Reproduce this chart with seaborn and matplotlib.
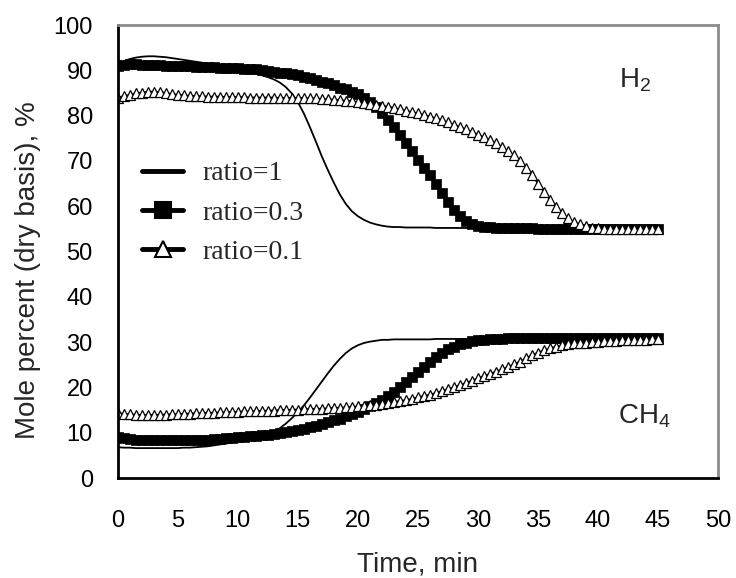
import numpy as np
import pandas as pd
import matplotlib
matplotlib.use('Agg')
import matplotlib.pyplot as plt
import seaborn as sns

# sample times, one reading every half minute
time_min = np.arange(0, 45.5, 0.5)

# H2 mole percent (dry basis)
h2_ratio_1 = [
    91.5, 92.0, 92.5, 92.8, 93.0, 93.1, 93.1, 93.0, 92.9, 92.7,
    92.5, 92.3, 92.1, 91.9, 91.7, 91.4, 91.2, 91.0, 90.8, 90.5,
    90.3, 90.0, 89.7, 89.3, 88.9, 88.5, 88.0, 87.3, 86.3, 84.9,
    83.0, 80.5, 77.5, 74.3, 71.0, 68.0, 65.2, 62.6, 60.5, 58.9,
    57.8, 57.0, 56.4, 56.0, 55.7, 55.5, 55.4, 55.4, 55.3, 55.3,
    55.3, 55.3, 55.3, 55.2, 55.2, 55.2, 55.2, 55.2, 55.2, 55.2,
    55.2, 55.2, 55.2, 55.2, 55.1, 55.1, 55.1, 55.1, 55.1, 55.1,
    55.1, 55.1, 55.1, 55.1, 55.1, 55.1, 55.0, 55.0, 55.0, 55.0,
    55.0, 55.0, 55.0, 55.0, 55.0, 55.0, 55.0, 55.0, 55.0, 55.0,
    55.0]
h2_ratio_03 = [
    91.0, 91.2, 91.3, 91.3, 91.2, 91.2, 91.1, 91.1, 91.0, 91.0,
    91.0, 90.9, 90.9, 90.8, 90.8, 90.7, 90.7, 90.6, 90.6, 90.5,
    90.5, 90.4, 90.3, 90.2, 90.0, 89.9, 89.7, 89.5, 89.3, 89.1,
    88.9, 88.6, 88.3, 87.9, 87.5, 87.1, 86.7, 86.2, 85.8, 85.3,
    84.8, 84.0, 83.0, 81.8, 80.5, 79.0, 77.4, 75.8, 74.0, 72.2,
    70.3, 68.5, 66.8, 65.0, 63.0, 61.0, 59.2, 57.8, 56.8, 56.1,
    55.7, 55.5, 55.4, 55.3, 55.2, 55.2, 55.1, 55.1, 55.1, 55.1,
    55.0, 55.0, 55.0, 55.0, 55.0, 55.0, 55.0, 55.0, 55.0, 55.0,
    55.0, 55.0, 55.0, 55.0, 55.0, 55.0, 55.0, 55.0, 55.0, 55.0,
    55.0]
h2_ratio_01 = [
    84.0, 84.3, 84.6, 84.9, 85.1, 85.3, 85.3, 85.2, 85.0, 84.8,
    84.6, 84.5, 84.4, 84.3, 84.3, 84.2, 84.2, 84.2, 84.1, 84.1,
    84.1, 84.1, 84.0, 84.0, 84.0, 84.0, 84.0, 83.9, 83.9, 83.9,
    83.9, 83.9, 83.8, 83.8, 83.7, 83.6, 83.5, 83.4, 83.3, 83.2,
    83.0, 82.8, 82.6, 82.4, 82.2, 82.0, 81.7, 81.4, 81.1, 80.8,
    80.5, 80.2, 79.8, 79.4, 79.0, 78.5, 78.0, 77.5, 77.0, 76.4,
    75.8, 75.2, 74.6, 73.9, 73.1, 72.2, 71.2, 70.0, 68.5, 66.9,
    65.0, 63.2, 61.4, 59.8, 58.4, 57.3, 56.5, 56.0, 55.6, 55.3,
    55.1, 55.0, 55.0, 54.9, 54.9, 54.9, 54.9, 54.9, 54.9, 54.9,
    54.9]

# CH4 mole percent (dry basis)
ch4_ratio_1 = [
    6.8, 6.7, 6.7, 6.6, 6.6, 6.6, 6.6, 6.6, 6.6, 6.6,
    6.6, 6.7, 6.7, 6.8, 6.9, 7.0, 7.2, 7.4, 7.6, 7.8,
    8.1, 8.3, 8.6, 8.9, 9.2, 9.6, 10.2, 11.0, 12.0, 13.2,
    14.5, 16.0, 17.7, 19.5, 21.3, 23.1, 24.8, 26.3, 27.6, 28.6,
    29.3, 29.8, 30.1, 30.3, 30.5, 30.5, 30.6, 30.6, 30.6, 30.6,
    30.6, 30.6, 30.6, 30.7, 30.7, 30.7, 30.7, 30.7, 30.7, 30.7,
    30.7, 30.7, 30.8, 30.8, 30.8, 30.8, 30.8, 30.8, 30.8, 30.8,
    30.8, 30.8, 30.8, 30.8, 30.8, 30.8, 30.8, 30.8, 30.8, 30.8,
    30.8, 30.8, 30.8, 30.8, 30.8, 30.8, 30.8, 30.8, 30.8, 30.8,
    30.8]
ch4_ratio_03 = [
    9.0, 8.8, 8.6, 8.5, 8.4, 8.4, 8.3, 8.3, 8.3, 8.3,
    8.3, 8.3, 8.3, 8.4, 8.4, 8.5, 8.6, 8.7, 8.8, 8.9,
    9.0, 9.1, 9.2, 9.3, 9.4, 9.5, 9.7, 9.9, 10.1, 10.3,
    10.6, 10.9, 11.2, 11.5, 11.9, 12.3, 12.7, 13.1, 13.6, 14.1,
    14.6, 15.2, 15.8, 16.5, 17.3, 18.1, 19.0, 20.0, 21.1, 22.3,
    23.5, 24.6, 25.7, 26.7, 27.6, 28.4, 29.0, 29.5, 29.9, 30.2,
    30.4, 30.5, 30.6, 30.7, 30.7, 30.8, 30.8, 30.8, 30.9, 30.9,
    30.9, 30.9, 31.0, 31.0, 31.0, 31.0, 31.0, 31.0, 31.0, 31.0,
    31.0, 31.0, 31.0, 31.0, 31.0, 31.0, 31.0, 31.0, 31.0, 31.0,
    31.0]
ch4_ratio_01 = [
    14.3, 14.2, 14.1, 14.0, 13.9, 13.9, 13.9, 14.0, 14.0, 14.1,
    14.1, 14.2, 14.2, 14.3, 14.3, 14.4, 14.4, 14.5, 14.5, 14.6,
    14.6, 14.7, 14.7, 14.8, 14.8, 14.9, 14.9, 15.0, 15.0, 15.1,
    15.1, 15.2, 15.2, 15.3, 15.3, 15.4, 15.5, 15.5, 15.6, 15.7,
    15.8, 15.9, 16.1, 16.2, 16.4, 16.6, 16.8, 17.0, 17.2, 17.5,
    17.8, 18.1, 18.4, 18.8, 19.2, 19.6, 20.0, 20.5, 21.0, 21.5,
    22.0, 22.5, 23.0, 23.5, 24.0, 24.5, 25.1, 25.7, 26.4, 27.1,
    27.7, 28.2, 28.6, 29.0, 29.3, 29.5, 29.7, 29.8, 29.9, 30.0,
    30.1, 30.2, 30.3, 30.3, 30.4, 30.4, 30.5, 30.5, 30.5, 30.6,
    30.6]

ratio_labels = ['ratio=1', 'ratio=0.3', 'ratio=0.1']
x_ticks = [0, 5, 10, 15, 20, 25, 30, 35, 40, 45, 50]
y_ticks = [0, 10, 20, 30, 40, 50, 60, 70, 80, 90, 100]

sns.set_theme(style='white')
plt.rcParams['font.family'] = ['Liberation Sans', 'DejaVu Sans']
plt.rcParams['mathtext.default'] = 'regular'

fig = plt.figure(figsize=(7.36, 5.78), dpi=100)
ax = fig.add_axes([0.160, 0.173, 0.8155, 0.7837])

# line styles for the three ratios
styles = [
    dict(color='black', lw=1.3),
    dict(color='black', lw=1.5, marker='s', markersize=7, markerfacecolor='black',
         markeredgecolor='black', markeredgewidth=0.5),
    dict(color='black', lw=1.2, marker='^', markersize=7.5, markerfacecolor='white',
         markeredgecolor='black', markeredgewidth=0.9),
]

h2_series = [h2_ratio_1, h2_ratio_03, h2_ratio_01]
ch4_series = [ch4_ratio_1, ch4_ratio_03, ch4_ratio_01]

for lab, st, h2, ch4 in zip(ratio_labels, styles, h2_series, ch4_series):
    df = pd.DataFrame({'time': time_min, 'h2': h2, 'ch4': ch4})
    sns.lineplot(data=df, x='time', y='h2', ax=ax, label=lab, **st)
    sns.lineplot(data=df, x='time', y='ch4', ax=ax, label='_nolegend_', **st)

ax.set_xlim(0, 50)
ax.set_ylim(0, 100)
ax.set_xticks(x_ticks)
ax.set_yticks(y_ticks)
ax.tick_params(axis='both', direction='in', length=6, width=1.2, labelsize=17,
               colors='black')
ax.tick_params(axis='x', pad=23)
ax.tick_params(axis='y', pad=18)

for side in ['left', 'bottom']:
    ax.spines[side].set_color('black')
    ax.spines[side].set_linewidth(2)
for side in ['top', 'right']:
    ax.spines[side].set_visible(True)
    ax.spines[side].set_color('#8c8c8c')
    ax.spines[side].set_linewidth(2)

ax.set_xlabel('Time, min', fontsize=20, labelpad=14)
ax.set_ylabel('Mole percent (dry basis), %', fontsize=20)
ax.yaxis.set_label_coords(-0.128, 0.46)

ax.text(43.1, 87.9, r'H$_2$', fontsize=20, ha='center', va='center')
ax.text(43.9, 13.7, r'CH$_4$', fontsize=20, ha='center', va='center')

leg = ax.legend(loc='upper left', bbox_to_anchor=(0.04, 0.70), frameon=False,
                prop={'family': 'Liberation Serif', 'size': 20},
                handlelength=1.5, handletextpad=0.7, labelspacing=0.5,
                borderpad=0, borderaxespad=0)
for line, ms in zip(leg.get_lines(), [0, 11, 12]):
    line.set_linewidth(3.5)
    if ms:
        line.set_markersize(ms)
        line.set_markeredgewidth(1.5)

fig.savefig('out.png', dpi=100)
